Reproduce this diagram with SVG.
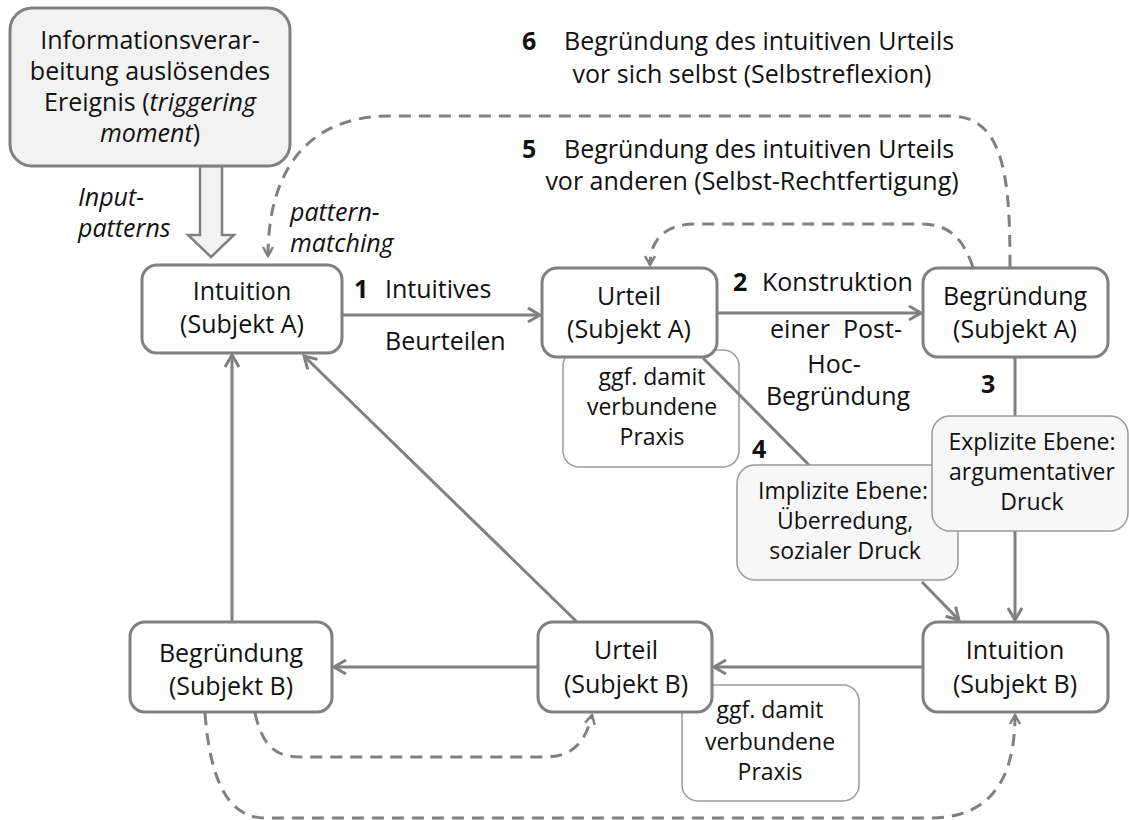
<svg xmlns="http://www.w3.org/2000/svg" width="1129" height="820" viewBox="0 0 1129 820">
<style>
text{font-family:"Open Sans","Noto Sans","DejaVu Sans",sans-serif;font-size:25px;fill:#111}
.c{text-anchor:middle}
.b{font-weight:bold}
.i{font-style:italic}
.s{font-size:23px}
.node{fill:#fff;stroke:#808080;stroke-width:3}
.gray{fill:#f2f2f2;stroke:#808080;stroke-width:3}
.light{fill:#f7f7f7;stroke:#9a9a9a;stroke-width:1.5}
.note{fill:#fff;stroke:#9a9a9a;stroke-width:1.5}
.ln{fill:none;stroke:#808080;stroke-width:3}
.ds{fill:none;stroke:#808080;stroke-width:3;stroke-dasharray:12 8}
</style>
<defs>
<marker id="ah" markerUnits="userSpaceOnUse" markerWidth="16" markerHeight="18" refX="13" refY="8" orient="auto">
<path d="M1,1 L13,8 L1,15" fill="none" stroke="#808080" stroke-width="3" stroke-dasharray="none"/>
</marker>
<marker id="ahd" markerUnits="userSpaceOnUse" markerWidth="14" markerHeight="14" refX="10" refY="6" orient="auto">
<path d="M1,1 L10,6 L1,11" fill="none" stroke="#808080" stroke-width="2.5" stroke-dasharray="none"/>
</marker>
</defs>

<g id="note-praxis-a">
<rect class="note" x="563" y="350" width="176" height="117" rx="16"/>
<text class="c s" x="652" y="385">ggf. damit</text>
<text class="c s" x="652" y="415">verbundene</text>
<text class="c s" x="652" y="445">Praxis</text>
</g>
<g id="note-praxis-b">
<rect class="note" x="682" y="685" width="177" height="116" rx="16"/>
<text class="c s" x="770" y="718">ggf. damit</text>
<text class="c s" x="770" y="750">verbundene</text>
<text class="c s" x="770" y="780">Praxis</text>
</g>

<g id="connectors">
<polygon points="200,166 222,166 222,235 234,235 211,257 188,235 200,235" fill="#f2f2f2" stroke="#808080" stroke-width="2.5"/>
<path class="ln" d="M342 315 L540 315" marker-end="url(#ah)"/>
<path class="ln" d="M717 313 L921 313" marker-end="url(#ah)"/>
<path class="ln" d="M1015 357 L1015 620" marker-end="url(#ah)"/>
<path class="ln" d="M703 358 L810 466"/>
<path class="ln" d="M922 582 L959 620" marker-end="url(#ah)"/>
<path class="ln" d="M923 667 L714 667" marker-end="url(#ah)"/>
<path class="ln" d="M538 667 L334 667" marker-end="url(#ah)"/>
<path class="ln" d="M577 622 L304 356" marker-end="url(#ah)"/>
<path class="ln" d="M232 622 L232 355" marker-end="url(#ah)"/>
<path class="ds" d="M1010 267 C1010 180 1005 116 950 116 L390 116 C300 116 268 180 268 256" marker-end="url(#ahd)"/>
<path class="ds" d="M973 267 C962 236 948 224 920 224 L695 224 C665 224 650 240 650 265" marker-end="url(#ahd)"/>
<path class="ds" d="M255 713 C262 745 275 757 300 757 L545 757 C570 757 585 745 592 715" marker-end="url(#ahd)"/>
<path class="ds" d="M205 713 C210 780 228 818 265 818 L930 818 C990 818 1015 780 1015 715" marker-end="url(#ahd)"/>
</g>

<g id="trigger">
<rect class="gray" x="10" y="8" width="280" height="158" rx="22"/>
<text class="c" x="150" y="49">Informationsverar-</text>
<text class="c" x="150" y="80">beitung auslösendes</text>
<text class="c" x="150" y="111">Ereignis (<tspan class="i">triggering</tspan></text>
<text class="c" x="150" y="142"><tspan class="i">moment</tspan>)</text>
</g>

<g id="intuition-a">
<rect class="node" x="142" y="265" width="200" height="88" rx="15"/>
<text class="c" x="242" y="300">Intuition</text>
<text class="c" x="242" y="333">(Subjekt A)</text>
</g>
<g id="urteil-a">
<rect class="node" x="542" y="268" width="175" height="89" rx="15"/>
<text class="c" x="629" y="305">Urteil</text>
<text class="c" x="629" y="338">(Subjekt A)</text>
</g>
<g id="begruendung-a">
<rect class="node" x="923" y="268" width="185" height="89" rx="15"/>
<text class="c" x="1015" y="305">Begründung</text>
<text class="c" x="1015" y="338">(Subjekt A)</text>
</g>
<g id="begruendung-b">
<rect class="node" x="130" y="622" width="202" height="90" rx="15"/>
<text class="c" x="231" y="662">Begründung</text>
<text class="c" x="231" y="695">(Subjekt B)</text>
</g>
<g id="urteil-b">
<rect class="node" x="538" y="622" width="174" height="90" rx="15"/>
<text class="c" x="626" y="659">Urteil</text>
<text class="c" x="626" y="693">(Subjekt B)</text>
</g>
<g id="intuition-b">
<rect class="node" x="923" y="622" width="185" height="90" rx="15"/>
<text class="c" x="1015" y="659">Intuition</text>
<text class="c" x="1015" y="693">(Subjekt B)</text>
</g>

<g id="implizit">
<rect class="light" x="737" y="465" width="221" height="115" rx="18"/>
<text class="c s" x="843" y="499">Implizite Ebene:</text>
<text class="c s" x="845" y="529">Überredung,</text>
<text class="c s" x="845" y="559">sozialer Druck</text>
</g>
<g id="explizit">
<rect class="light" x="932" y="416" width="196" height="115" rx="18" fill="#f2f2f2"/>
<text class="c s" x="1032" y="450">Explizite Ebene:</text>
<text class="c s" x="1032" y="480">argumentativer</text>
<text class="c s" x="1032" y="510">Druck</text>
</g>

<g id="labels">
<text class="b" x="522" y="50">6</text>
<text x="564" y="50">Begründung des intuitiven Urteils</text>
<text class="c" x="752" y="83">vor sich selbst (Selbstreflexion)</text>
<text class="b" x="522" y="158">5</text>
<text x="564" y="158">Begründung des intuitiven Urteils</text>
<text class="c" x="752" y="190">vor anderen (Selbst-Rechtfertigung)</text>
<text class="i" x="78" y="206">Input-</text>
<text class="i" x="78" y="237">patterns</text>
<text class="i" x="290" y="221">pattern-</text>
<text class="i" x="290" y="252">matching</text>
<text class="b" x="354" y="298">1</text>
<text x="385" y="298">Intuitives</text>
<text x="385" y="350">Beurteilen</text>
<text class="b" x="733" y="291">2</text>
<text x="762" y="291">Konstruktion</text>
<text class="c" x="836" y="338" xml:space="preserve">einer  Post-</text>
<text class="c" x="834" y="373">Hoc-</text>
<text class="c" x="838" y="405">Begründung</text>
<text class="b" x="981" y="393">3</text>
<text class="b" x="752" y="458">4</text>
</g>
</svg>
